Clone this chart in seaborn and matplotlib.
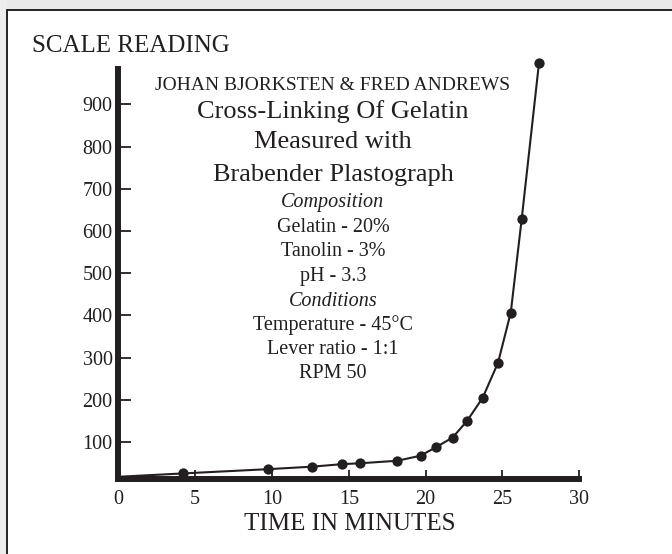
import matplotlib
matplotlib.use('Agg')
import matplotlib.pyplot as plt
import seaborn as sns
import pandas as pd
from matplotlib.patches import Rectangle
from matplotlib.lines import Line2D

## Values
time_min = [0, 4.23, 9.72, 12.62, 14.58, 15.73, 18.16, 19.67, 20.67, 21.76,
            22.71, 23.71, 24.71, 25.54, 26.25, 27.38]
scale_reading = [18, 26, 36, 42, 48, 50, 56, 68, 88, 111,
                 151, 205, 288, 407, 628, 999]
x_ticks = [0, 5, 10, 15, 20, 25, 30]
y_ticks = [100, 200, 300, 400, 500, 600, 700, 800, 900]

## Text block inside the plot: (text, size, style)
note_lines = [
    ("JOHAN BJORKSTEN & FRED ANDREWS", 14, "normal"),
    ("Cross-Linking Of Gelatin", 19, "normal"),
    ("Measured with", 19, "normal"),
    ("Brabender Plastograph", 19, "normal"),
    ("Composition", 14.5, "italic"),
    ("Gelatin - 20%", 14.5, "normal"),
    ("Tanolin - 3%", 14.5, "normal"),
    ("pH - 3.3", 14.5, "normal"),
    ("Conditions", 14.5, "italic"),
    ("Temperature - 45°C", 14.5, "normal"),
    ("Lever ratio - 1:1", 14.5, "normal"),
    ("RPM 50", 14.5, "normal"),
]
note_y_px = [85, 112, 142, 175, 202, 227, 251, 276, 301, 325, 349, 374]

ink = '#231f20'
W, H = 672, 554

sns.set_style('white')
plt.rcParams['font.family'] = ['Liberation Serif', 'DejaVu Serif']
plt.rcParams['text.color'] = ink

df = pd.DataFrame({'time': time_min, 'reading': scale_reading})

fig = plt.figure(figsize=(W / 100, H / 100), dpi=100)
fig.patch.set_facecolor('white')

## gray margin + thin black frame at top and left
fig.patches.append(Rectangle((0, 1 - 10 / H), 1, 10 / H, transform=fig.transFigure,
                             facecolor='#e9e9e9', edgecolor='none', zorder=0))
fig.patches.append(Rectangle((0, 0), 7 / W, 1, transform=fig.transFigure,
                             facecolor='#ededed', edgecolor='none', zorder=0))
fig.lines.append(Line2D([7 / W, 1], [1 - 10 / H, 1 - 10 / H], transform=fig.transFigure,
                        color='#222222', lw=1.4))
fig.lines.append(Line2D([7 / W, 7 / W], [0, 1 - 10 / H], transform=fig.transFigure,
                        color='#222222', lw=1.4))

ax = fig.add_axes([118.3 / W, 1 - 479.2 / H, (579.3 - 118.3) / W, (479.2 - 69.3) / H])
ax.set_facecolor('none')

sns.lineplot(data=df, x='time', y='reading', ax=ax, color=ink, lw=1.5,
             sort=False, clip_on=False, zorder=3)
sns.scatterplot(data=df.iloc[1:], x='time', y='reading', ax=ax, color=ink,
                s=55, edgecolor=ink, linewidth=0, clip_on=False, zorder=4)

ax.set_xlim(0, 30)
ax.set_ylim(12.3, 983)
ax.set_xticks(x_ticks)
ax.set_yticks(y_ticks)
ax.set_xlabel('')
ax.set_ylabel('')

for side in ['top', 'right']:
    ax.spines[side].set_visible(False)
for side in ['left', 'bottom']:
    ax.spines[side].set_color(ink)
    ax.spines[side].set_linewidth(4.3)

ax.tick_params(axis='y', left=True, direction='in', length=9.5, width=1.3, color=ink,
               labelsize=14.5, pad=4, labelcolor=ink)
ax.tick_params(axis='x', bottom=True, direction='in', length=6.5, width=1.3, color=ink,
               labelsize=14.5, pad=8, labelcolor=ink)

fig.text(32 / W, 1 - 46 / H, 'SCALE READING', fontsize=18, ha='left', va='center')
fig.text(350 / W, 1 - 524 / H, 'TIME IN MINUTES', fontsize=18, ha='center', va='center')

for (txt, size, style), ypx in zip(note_lines, note_y_px):
    fig.text(333 / W, 1 - ypx / H, txt, fontsize=size, style=style,
             ha='center', va='center')

fig.savefig('out.png', dpi=100)
